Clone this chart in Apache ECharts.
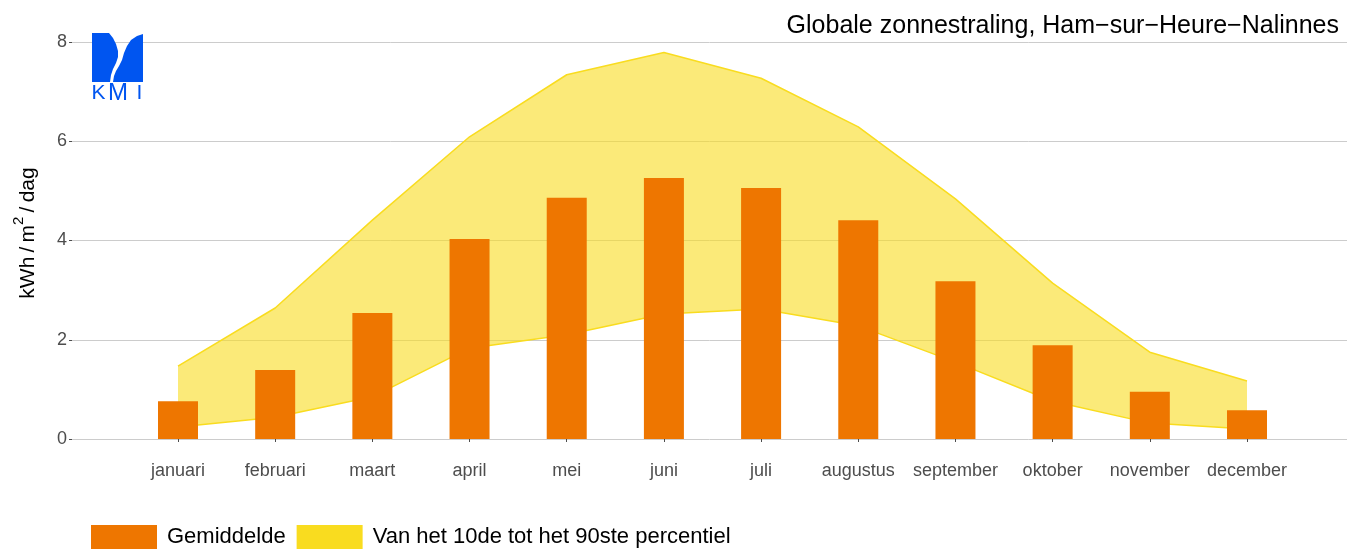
<!DOCTYPE html>
<html>
<head>
<meta charset="utf-8">
<script src="https://cdn.jsdelivr.net/npm/echarts@6/dist/echarts.min.js"></script>
<style>html,body{margin:0;padding:0;background:#fff}#c{width:1347px;height:550px}</style>
</head>
<body>
<div id="c"></div>
<script>
const months = ['januari','februari','maart','april','mei','juni','juli','augustus','september','oktober','november','december'];
const mean   = [0.76, 1.39, 2.54, 4.03, 4.86, 5.26, 5.06, 4.41, 3.18, 1.89, 0.95, 0.58];
const p10    = [0.24, 0.44, 0.85, 1.83, 2.10, 2.52, 2.62, 2.28, 1.55, 0.76, 0.32, 0.20];
const p90    = [1.47, 2.64, 4.41, 6.09, 7.34, 7.79, 7.27, 6.29, 4.84, 3.14, 1.75, 1.17];
const yTicks = [0, 2, 4, 6, 8];
const titleText = 'Globale zonnestraling, Ham\u2212sur\u2212Heure\u2212Nalinnes';
const meanName = 'Gemiddelde';
const bandName = 'Van het 10de tot het 90ste percentiel';
const logoLetters = ['K', 'M', 'I'];

const FONT = '"Liberation Sans", Arial, Helvetica, sans-serif';
const BLUE = '#0055F0';
const bandDiff = p90.map((v, i) => +(v - p10[i]).toFixed(3));
const logoX = [98.5, 118, 139.5];

const chart = echarts.init(document.getElementById('c'), null, {renderer: 'canvas'});
chart.setOption({
  animation: false,
  backgroundColor: '#fff',
  textStyle: {fontFamily: FONT},
  title: {
    text: titleText, right: 3, top: 9,
    textStyle: {fontFamily: FONT, fontSize: 25, fontWeight: 'normal', color: '#000'}
  },
  grid: [
    {left: 72, right: 0, top: 42, bottom: 111},
    {left: 129.41, right: 51.41, top: 42, bottom: 111}
  ],
  xAxis: [
    {type: 'category', gridIndex: 0, data: months, show: false},
    {
      type: 'category', gridIndex: 1, data: months, offset: 16,
      axisLine: {show: false},
      axisTick: {show: true, length: 3, alignWithLabel: true, lineStyle: {color: '#4d4d4d'}},
      axisLabel: {fontFamily: FONT, fontSize: 18, color: '#4d4d4d', margin: 7, interval: 0}
    }
  ],
  yAxis: [
    {
      type: 'value', gridIndex: 0, min: yTicks[0], max: yTicks[yTicks.length - 1], interval: 2,
      axisLine: {show: false},
      axisTick: {show: true, length: 3, lineStyle: {color: '#4d4d4d'}},
      axisLabel: {fontFamily: FONT, fontSize: 18, color: '#4d4d4d', margin: 5},
      splitLine: {lineStyle: {color: '#cccccc', width: 1}}
    },
    {type: 'value', gridIndex: 1, min: yTicks[0], max: yTicks[yTicks.length - 1], interval: 2, show: false, splitLine: {show: false}}
  ],
  legend: {
    left: 86, top: 520, itemWidth: 66, itemHeight: 24, itemGap: 11,
    textStyle: {fontFamily: FONT, fontSize: 22, color: '#000', padding: [0, 0, 0, 5]},
    data: [
      {name: meanName, icon: 'rect', itemStyle: {color: '#EE7600'}},
      {name: bandName, icon: 'rect', itemStyle: {color: '#F9DC1F'}, lineStyle: {width: 0}}
    ]
  },
  series: [
    {
      name: 'p10', type: 'line', xAxisIndex: 1, yAxisIndex: 1, stack: 'band', data: p10,
      symbol: 'none', silent: true, z: 2,
      lineStyle: {color: '#F9DC1F', width: 1.5}
    },
    {
      name: bandName, type: 'line', xAxisIndex: 1, yAxisIndex: 1, stack: 'band', data: bandDiff,
      symbol: 'none', z: 2,
      itemStyle: {color: '#F9DC1F'},
      lineStyle: {color: '#F9DC1F', width: 1.5},
      areaStyle: {color: 'rgba(249,220,31,0.6)', opacity: 1}
    },
    {
      name: meanName, type: 'bar', xAxisIndex: 1, yAxisIndex: 1, data: mean,
      barWidth: 40, z: 3,
      itemStyle: {color: '#EE7600'}
    }
  ],
  graphic: [
    {
      type: 'polygon', z: 10,
      shape: {points: [[92,33],[109,33],[113,38],[116,44],[118,51],[118,57],[116,63],[113,69],[111,75],[110,82],[92,82]]},
      style: {fill: BLUE}
    },
    {
      type: 'polygon', z: 10,
      shape: {points: [[143,34],[137,36],[131,40],[127,46],[124,53],[122,60],[119,66],[116,71],[114,76],[113,82],[143,82]]},
      style: {fill: BLUE}
    }
  ].concat(logoLetters.map((ch, i) => ({
    type: 'text', z: 10, x: logoX[i], y: 93,
    style: {text: ch, fill: BLUE, font: (ch === 'M' ? '24px ' : '21px ') + FONT, align: 'center', verticalAlign: 'middle'}
  }))).concat([
    {
      type: 'text', z: 10, x: 25, y: 233, rotation: Math.PI / 2,
      style: {
        text: '{a|kWh\u2009/\u2009m}{s|2}{a|\u2009/\u2009dag}',
        align: 'center', verticalAlign: 'middle',
        rich: {
          a: {fontFamily: FONT, fontSize: 21, color: '#000', lineHeight: 28, verticalAlign: 'bottom'},
          s: {fontFamily: FONT, fontSize: 15, color: '#000', lineHeight: 28, verticalAlign: 'top', padding: [0, 0, 10, 0]}
        }
      }
    }
  ])
});
</script>
</body>
</html>
